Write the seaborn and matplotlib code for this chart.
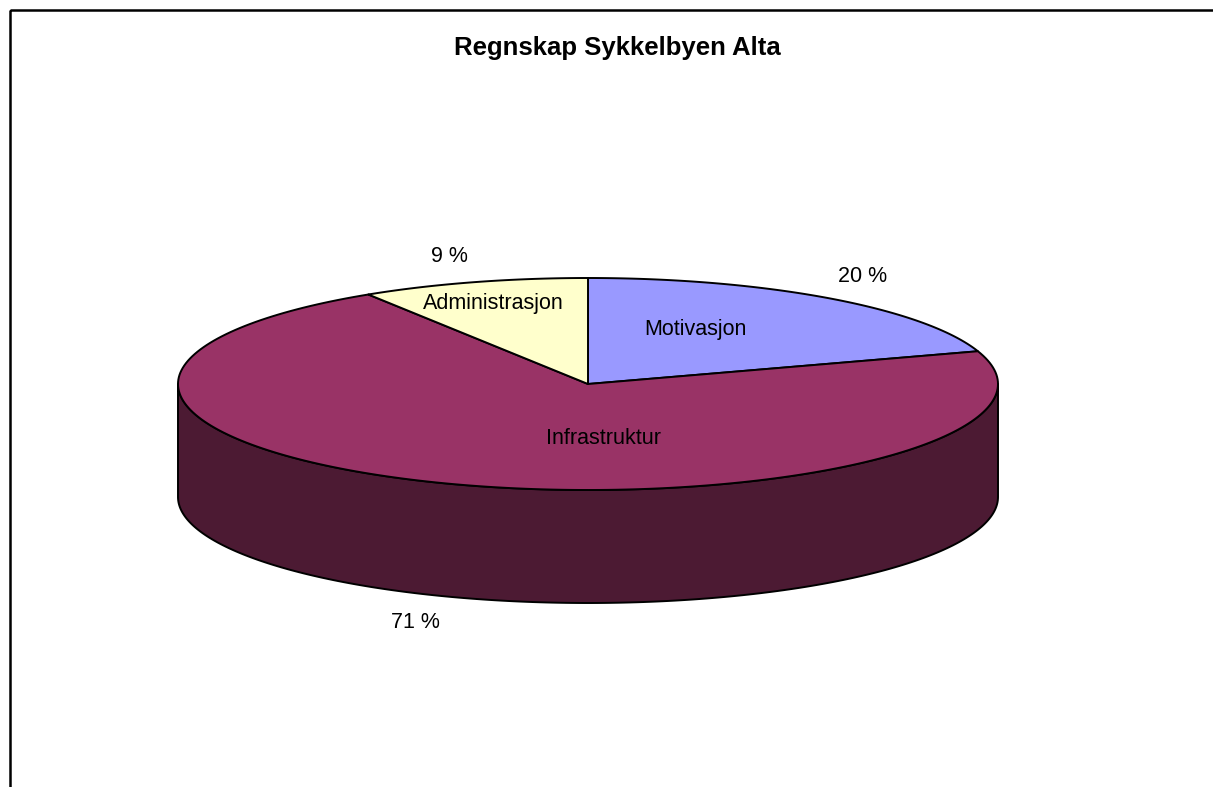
import numpy as np
import matplotlib
matplotlib.use("Agg")
import matplotlib.pyplot as plt
import seaborn as sns
from matplotlib.patches import Polygon, Rectangle

# data
categories = ["Motivasjon", "Infrastruktur", "Administrasjon"]
shares = [20, 71, 9]
pct_labels = [f"{v} %" for v in shares]
face_colors = ["#9999FF", "#993366", "#FFFFCC"]
side_colors = ["#4D4D80", "#4C1A33", "#808066"]
TITLE = "Regnskap Sykkelbyen Alta"

# layout in pixel units (figure is drawn 1:1 in pixels)
W, H = 1213, 787
CX, CY = 588, 384
RX, RY = 410, 106
DEPTH = 113
name_pos = [(695, 329), (604, 438), (493, 304)]
pct_pos = [(863, 276), (415, 623), (449, 257)]

sns.set_theme(style="white")
plt.rcParams["font.family"] = ["Liberation Sans", "DejaVu Sans"]


def arc(t0, t1, dy=0.0, n=200):
    t = np.radians(np.linspace(t0, t1, n))
    return np.column_stack([CX + RX * np.cos(t), CY + dy - RY * np.sin(t)])


def main() -> None:
    fig = plt.figure(figsize=(W / 100, H / 100), dpi=100)
    ax = fig.add_axes([0, 0, 1, 1])
    ax.set_xlim(0, W)
    ax.set_ylim(H, 0)
    ax.axis("off")

    # slice angles, clockwise from 12 o'clock
    total = sum(shares)
    starts, ends = [], []
    a = 90.0
    for v in shares:
        starts.append(a)
        a -= v / total * 360.0
        ends.append(a)

    # visible front wall (lower half of the ellipse)
    for t0, t1, sc in zip(starts, ends, side_colors):
        for k in (-1, 0, 1):
            lo = max(t1, -180 + 360 * k)
            hi = min(t0, 360 * k)
            if hi > lo:
                pts = np.vstack([arc(hi, lo), arc(lo, hi, dy=DEPTH)])
                ax.add_patch(Polygon(pts, closed=True, fc=sc, ec="black",
                                     lw=1.4, joinstyle="round", zorder=1))

    # top faces
    for t0, t1, fc in zip(starts, ends, face_colors):
        pts = np.vstack([[CX, CY], arc(t0, t1)])
        ax.add_patch(Polygon(pts, closed=True, fc=fc, ec="black",
                             lw=1.4, joinstyle="round", zorder=2))

    for name, (x, y) in zip(categories, name_pos):
        ax.text(x, y, name, ha="center", va="center", fontsize=15.5, color="black", zorder=3)
    for lab, (x, y) in zip(pct_labels, pct_pos):
        ax.text(x, y, lab, ha="center", va="center", fontsize=15.5, color="black", zorder=3)

    ax.text(617, 48, TITLE, ha="center", va="center", fontsize=18.5,
            fontweight="bold", color="black")

    # chart area border (cropped at right and bottom)
    ax.add_patch(Rectangle((10, 10), 1400, 1000, fill=False, ec="black", lw=1.8))

    fig.savefig("out.png", dpi=100)
    plt.close(fig)


if __name__ == "__main__":
    main()
